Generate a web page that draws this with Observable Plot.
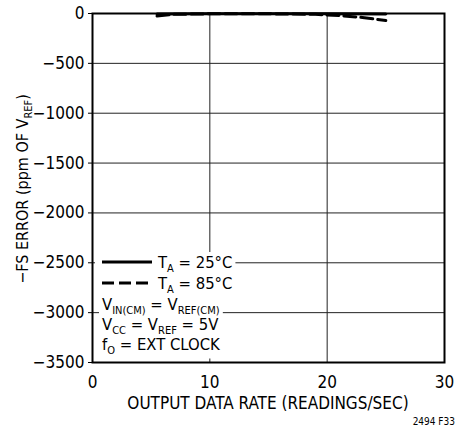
<!DOCTYPE html>
<html>
<head>
<meta charset="utf-8">
<script src="https://cdn.jsdelivr.net/npm/d3@7"></script>
<script src="https://cdn.jsdelivr.net/npm/@observablehq/plot@0.6"></script>
<style>
  html, body { margin: 0; padding: 0; background: #fff; }
  #chart svg { display: block; }
</style>
</head>
<body>
<div id="chart"></div>
<script>
// Data
const rate25 = [5.5, 10, 15, 20, 25];
const err25  = [-5, -3, -3, -3, -5];
const rate85 = [5.5, 7, 10, 15, 19, 21, 23, 25];
const err85  = [-25, -8, -3, -3, -8, -20, -40, -70];
const xTicks = [0, 10, 20, 30];
const yTicks = [0, -500, -1000, -1500, -2000, -2500, -3000, -3500];

const FONT = "'Liberation Sans Narrow', 'DejaVu Sans Condensed', 'Roboto', sans-serif";

const d25 = rate25.map((x, i) => ({x, y: err25[i]}));
const d85 = rate85.map((x, i) => ({x, y: err85[i]}));

const W = 472, H = 433;
const mL = 92, mR = 28, mT = 13, mB = 71;

const plot = Plot.plot({
  width: W,
  height: H,
  marginLeft: mL,
  marginRight: mR,
  marginTop: mT,
  marginBottom: mB,
  style: {fontFamily: FONT, fontSize: "17px", color: "#000", background: "#fff"},
  x: {domain: [0, 30]},
  y: {domain: [-3500, 0]},
  marks: [
    Plot.gridX(xTicks, {stroke: "#222", strokeOpacity: 1, strokeWidth: 1}),
    Plot.gridY(yTicks, {stroke: "#222", strokeOpacity: 1, strokeWidth: 1}),
    Plot.axisX({ticks: xTicks, tickSize: 0, tickPadding: 13, label: null, tickFormat: d => String(d)}),
    Plot.axisY({ticks: yTicks, tickSize: 4, tickPadding: 4, label: null,
      tickFormat: d => d < 0 ? "\u2212" + Math.abs(d) : String(d)}),
    Plot.line(d25, {x: "x", y: "y", stroke: "#000", strokeWidth: 3}),
    Plot.line(d85, {x: "x", y: "y", stroke: "#000", strokeWidth: 3, strokeDasharray: "12,5"}),
    Plot.frame({stroke: "#000", strokeWidth: 2})
  ]
});
document.getElementById("chart").appendChild(plot);

const svg = d3.select(plot);
const px0 = mL, px1 = W - mR;

// helper: rich text with subscripts. parts: [text, isSub]
function rich(g, parts, size, subSize, shift) {
  const t = g.append("text").attr("font-family", FONT).attr("font-size", size)
    .attr("fill", "#000").attr("text-anchor", "start");
  let prevSub = false;
  parts.forEach(([s, sub]) => {
    const ts = t.append("tspan").text(s);
    if (sub) { ts.attr("font-size", subSize); }
    if (sub && !prevSub) ts.attr("dy", shift);
    if (!sub && prevSub) ts.attr("dy", -shift);
    prevSub = sub;
  });
  return t;
}

// Legend (drawn after the grid, before the frame)
const frameNode = svg.select("[aria-label='frame']").node();
const leg = svg.append("g");
const bgLayer = leg.append("g");
const fgLayer = leg.append("g");
const legendRows = [
  {parts: [["T", false], ["A", true], [" = 25°C", false]], line: "solid"},
  {parts: [["T", false], ["A", true], [" = 85°C", false]], line: "dash"},
  {parts: [["V", false], ["IN(CM)", true], [" = V", false], ["REF(CM)", true]]},
  {parts: [["V", false], ["CC", true], [" = V", false], ["REF", true], [" = 5V", false]]},
  {parts: [["f", false], ["O", true], [" = EXT CLOCK", false]]}
];
const rowY = [268, 289, 310, 330, 350]; // baselines (px)
legendRows.forEach((r, i) => {
  const tx = r.line ? 158 : 102;
  const t = rich(fgLayer, r.parts, 16.5, 11, 3.5).attr("x", tx).attr("y", rowY[i]);
  const bb = t.node().getBBox();
  const x0 = r.line ? 95 : bb.x - 3;
  bgLayer.append("rect")
    .attr("x", x0).attr("y", bb.y - 1)
    .attr("width", bb.x + bb.width + 3 - x0).attr("height", bb.height + 3)
    .attr("fill", "#fff");
  if (r.line) {
    fgLayer.append("line").attr("x1", 102).attr("x2", 152).attr("y1", rowY[i] - 6).attr("y2", rowY[i] - 6)
      .attr("stroke", "#000").attr("stroke-width", 3)
      .attr("stroke-dasharray", r.line === "dash" ? "12,5" : null);
  }
});
if (frameNode) svg.node().appendChild(frameNode);

// Axis titles
svg.append("text").attr("x", (px0 + px1) / 2).attr("y", 409)
  .attr("text-anchor", "middle").attr("font-family", FONT).attr("font-size", 17)
  .text("OUTPUT DATA RATE (READINGS/SEC)");

rich(svg.append("g").attr("transform", "translate(28,189) rotate(-90)"),
  [["\u2212FS ERROR (ppm OF V", false], ["REF", true], [")", false]], 16, 11, 4)
  .attr("text-anchor", "middle");

svg.append("text").attr("x", 455).attr("y", 425).attr("text-anchor", "end")
  .attr("font-family", FONT).attr("font-size", 10).text("2494 F33");
</script>
</body>
</html>
